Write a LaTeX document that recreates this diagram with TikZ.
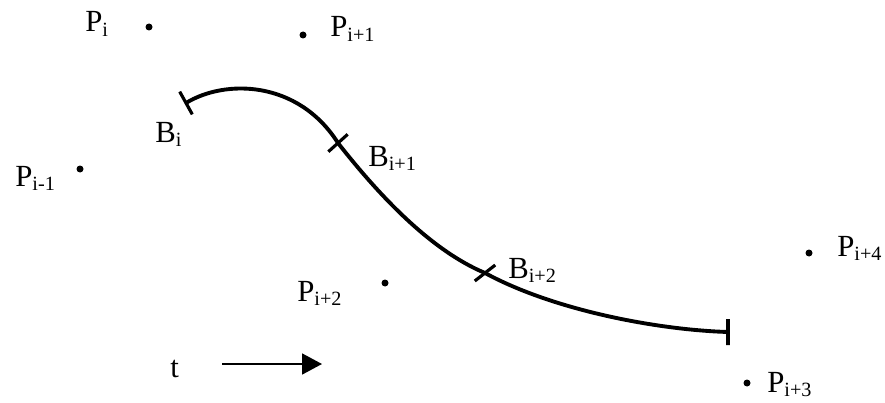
\documentclass[tikz,border=0pt]{standalone}
\usepackage{fontspec}
\setmainfont{Liberation Serif}
\usetikzlibrary{arrows.meta}
\newcommand{\lsub}[1]{\raisebox{-2.8pt}{\fontsize{11.5}{13}\selectfont #1}}

\begin{document}
\begin{tikzpicture}[x=0.02cm,y=-0.02cm,
    dot/.style={circle,fill,inner sep=0pt,minimum size=1.4mm},
    lbl/.style={anchor=base west,inner sep=0pt,font=\fontsize{17.5}{20}\selectfont},
    tickmark/.style={draw,line width=1.8pt,inner sep=0pt,minimum width=0pt,minimum height=0.52cm}]
  \useasboundingbox (0,0) rectangle (885,402);
  % Control points
  \node[dot] (p0) at (149,27) {};
  \node[dot] (p1) at (303,35) {};
  \node[dot] (pm) at (80,169) {};
  \node[dot] (p2) at (385,283) {};
  \node[dot] (p4) at (809,253) {};
  \node[dot] (p3) at (747,383) {};
  \node[lbl] at (85,32) {P\lsub{i}};
  \node[lbl] at (330,37) {P\lsub{i+1}};
  \node[lbl] at (15,186) {P\lsub{i-1}};
  \node[lbl] at (297,301) {P\lsub{i+2}};
  \node[lbl] at (837,256) {P\lsub{i+4}};
  \node[lbl] at (767,392) {P\lsub{i+3}};
  % Curve segments
  \coordinate (b0) at (186,103);
  \coordinate (b1) at (338,143);
  \coordinate (b2) at (485,273);
  \coordinate (b3) at (728,332);
  \draw[line width=2.2pt] (b0) .. controls (225,79) and (298,80) .. (b1)
    .. controls (378,194) and (430,250) .. (b2)
    .. controls (555,311) and (660,330) .. (b3);
  \node[tickmark,rotate=29] at (b0) {};
  \node[tickmark,rotate=-48] at (b1) {};
  \node[tickmark,rotate=-52] at (b2) {};
  \node[tickmark] at (b3) {};
  \node[lbl] at (155,142) {B\lsub{i}};
  \node[lbl] at (368,166) {B\lsub{i+1}};
  \node[lbl] at (508,278) {B\lsub{i+2}};
  % Parameter direction
  \node[lbl] (t) at (170,377) {t};
  \coordinate (t0) at (222,364);
  \coordinate (t1) at (322,364);
  \draw[line width=1pt,-{Triangle[length=4mm,width=4.2mm]}] (t0) -- (t1);
\end{tikzpicture}
\end{document}
